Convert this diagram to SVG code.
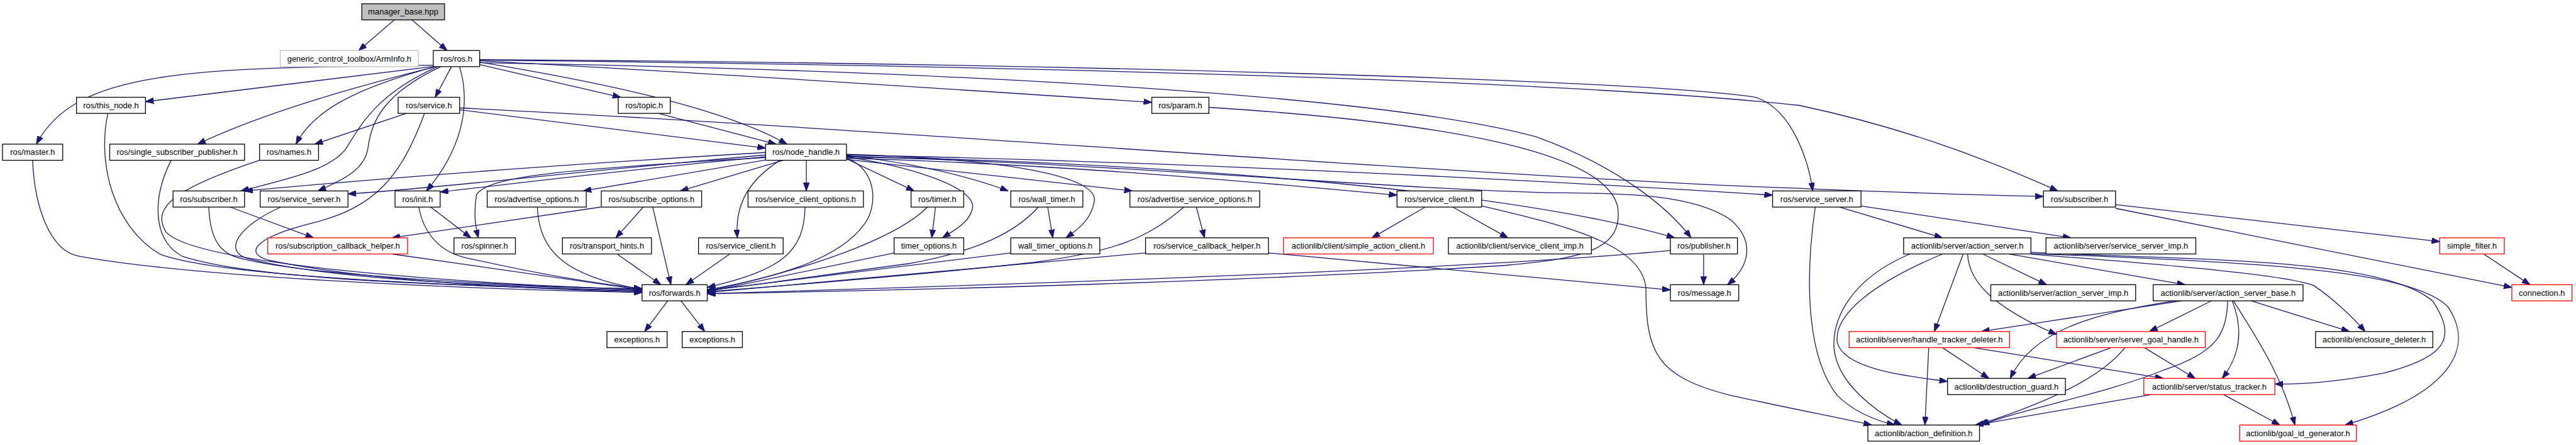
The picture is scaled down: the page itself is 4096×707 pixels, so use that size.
<svg xmlns="http://www.w3.org/2000/svg" width="4096" height="707" viewBox="0 0 4096 707">
<style>
.box{fill:#fff;stroke:#000;stroke-width:1.3}
.red{stroke:#ff0000}
.grey{stroke:#bfbfbf}
.root{fill:#bfbfbf}
text{font-family:"Liberation Sans",Arial,sans-serif;font-size:13px;fill:#000;text-anchor:middle}
.e path{fill:none;stroke:#191970;stroke-width:1.3;marker-end:url(#a)}
</style>
<defs>
<marker id="a" markerUnits="userSpaceOnUse" markerWidth="13" markerHeight="9.4" viewBox="0 0 13 9.4" refX="13" refY="4.7" orient="auto"><path d="M0,0L13,4.7L0,9.4z" fill="#191970" stroke="#191970" stroke-width="1"/></marker>
</defs>
<rect width="4096" height="707" fill="#fff"/>
<g transform="scale(0.997)">
<g id="edges" class="e">
<path d="M629,31.7 L572,80.5"/>
<path d="M657,31.7 L713,80.5"/>
<path d="M691,104 C300,108 120,112 58,229.7"/>
<path d="M691,106 L232,162"/>
<path d="M692,107 C560,140 420,180 315,229.7"/>
<path d="M694,106.2 C570,140 500,175 472,229.7"/>
<path d="M698,106.2 C600,150 575,200 553,235 C530,270 460,285 384,304.3"/>
<path d="M703,106.2 C610,150 592,195 587,235 C582,270 550,285 507,304.3"/>
<path d="M720,106.2 L694,155"/>
<path d="M733,106.2 C752,170 735,240 680,304.3"/>
<path d="M765,103 L990,155"/>
<path d="M765,99 C950,130 1150,170 1255,229.7"/>
<path d="M765,97 C1200,120 1600,148 1837,163"/>
<path d="M765,95 C1600,100 2600,125 2800,155 C2860,175 2885,260 2891,304.3"/>
<path d="M765,96 C1600,104 2500,128 2870,168 C3020,200 3150,245 3282,304.3"/>
<path d="M765,100 C1500,112 2200,150 2450,218 C2580,265 2660,330 2697,379"/>
<path d="M648,180.7 L502,229.7"/>
<path d="M733,175 L1221,236"/>
<path d="M677,180.7 C640,280 600,330 500,355 C400,380 390,405 430,415 C600,450 850,460 1024,466"/>
<path d="M733,172 C1400,205 2050,260 2740,295 C3000,306 3150,311 3259,313"/>
<path d="M1050,180.7 L1238,229.7"/>
<path d="M1928,171 C2300,195 2560,240 2580,330 C2590,400 2520,412 2400,423 C2000,448 1500,462 1128,468"/>
<path d="M52,255.4 C55,330 80,400 125,408 C300,440 700,460 1024,466"/>
<path d="M172,180.7 C155,260 180,360 255,405 C350,440 700,455 1024,464"/>
<path d="M273,255.4 C245,310 240,380 290,408 C400,445 700,455 1024,463"/>
<path d="M414,255.4 C280,300 240,330 265,370 C310,420 700,450 1024,462"/>
<path d="M333,330 C335,380 350,405 385,412 C500,440 800,455 1024,461"/>
<path d="M448,330 C380,360 355,400 395,412 C550,450 850,458 1024,460"/>
<path d="M367,330 L500,379"/>
<path d="M1221,243 C900,262 600,285 390,304.3"/>
<path d="M1221,247 C900,275 700,300 555,309"/>
<path d="M1221,250 C1000,270 800,295 702,306"/>
<path d="M1221,251 C900,270 780,280 760,310 C755,340 758,360 763,379"/>
<path d="M1221,255 L930,304.3"/>
<path d="M1249,255.4 L1085,304.3"/>
<path d="M1286,255.4 L1286,304.3"/>
<path d="M1244,255.4 C1190,290 1172,330 1176,379"/>
<path d="M1350,252 C1400,270 1400,330 1378,358 C1340,410 1250,440 1128,462"/>
<path d="M1350,253 L1458,304.3"/>
<path d="M1350,250 C1450,265 1565,300 1550,335 C1545,355 1520,368 1503,379"/>
<path d="M1350,248 C1450,258 1550,282 1608,304.3"/>
<path d="M1350,246 C1600,253 1755,280 1745,322 C1740,350 1720,365 1700,379"/>
<path d="M1350,254 L1806,304.3"/>
<path d="M1350,252 C1700,262 2000,290 2228,311"/>
<path d="M1350,247 C1900,258 2500,290 2827,311"/>
<path d="M1350,250 C1800,256 2400,300 2671,379"/>
<path d="M1350,249 C1800,262 2200,300 2470,307 C2600,308 2700,310 2760,350 C2800,385 2790,425 2755,453.7"/>
<path d="M857,330 C860,400 900,440 1024,461"/>
<path d="M958,330 L625,379"/>
<path d="M1026,330 L982,379"/>
<path d="M1041,330 L1070,453.7"/>
<path d="M1284,330 C1282,400 1250,430 1128,458"/>
<path d="M1479,330 C1440,370 1330,420 1128,464"/>
<path d="M1492,330 L1486,379"/>
<path d="M1671,330 L1679,379"/>
<path d="M1656,330 C1620,370 1560,400 1450,420 C1300,440 1200,455 1128,463"/>
<path d="M1908,330 L1921,379"/>
<path d="M1888,330 C1830,380 1780,400 1650,418 C1450,440 1250,455 1128,465"/>
<path d="M2273,330 L2188,379"/>
<path d="M2317,330 L2405,379"/>
<path d="M2363,328 C2500,360 2620,390 2625,460 C2625,560 2640,600 2760,630 C2850,650 2930,665 2985,677.3"/>
<path d="M2934,330 L3098,379"/>
<path d="M2967,328 L3303,379"/>
<path d="M2895,330 C2882,420 2875,560 2930,630 C2960,660 3000,672 3022,677.3"/>
<path d="M3374,326 L3891,385"/>
<path d="M3374,332 L4006,458"/>
<path d="M625,404.7 L1024,462"/>
<path d="M687,330 L751,379"/>
<path d="M668,330 C675,370 700,400 740,410 C850,435 950,452 1024,460"/>
<path d="M984,404.7 L1054,453.7"/>
<path d="M1164,404.7 L1094,453.7"/>
<path d="M1426,403 L1128,465"/>
<path d="M1612,403 L1128,463"/>
<path d="M1827,403 L1128,466"/>
<path d="M2023,403 L2664,462"/>
<path d="M2717,404.7 L2717,453.7"/>
<path d="M2664,399 C2400,425 1800,448 1128,468"/>
<path d="M3961,404.7 L4035,453.7"/>
<path d="M1065,479.4 L1028,528.3"/>
<path d="M1086,479.4 L1124,528.3"/>
<path d="M3046,404.7 C2950,445 2922,510 2925,555 C2930,610 2990,655 3033,677.3"/>
<path d="M3098,404.7 C2990,450 2925,500 2930,545 C2940,590 3050,600 3106,608"/>
<path d="M3131,404.7 L3085,528.3"/>
<path d="M3138,404.7 C3140,450 3180,490 3280,533"/>
<path d="M3162,404.7 L3264,453.7"/>
<path d="M3203,404.7 L3485,453.7"/>
<path d="M3239,402 C3500,415 3800,410 3880,480 C3920,540 3900,570 3800,595 C3720,610 3670,612 3628,612"/>
<path d="M3239,404 C3600,418 3850,430 3905,490 C3950,560 3900,630 3740,677.3"/>
<path d="M3239,405 C3500,425 3650,440 3690,455 C3720,475 3752,505 3772,528.3"/>
<path d="M3480,479.4 L3160,528.3"/>
<path d="M3470,479.4 C3330,500 3240,530 3206,603"/>
<path d="M3527,479.4 L3428,528.3"/>
<path d="M3553,479.4 C3550,530 3540,560 3450,590 C3350,630 3230,650 3160,677.3"/>
<path d="M3560,479.4 C3580,530 3570,570 3544,603"/>
<path d="M3562,479.4 C3600,540 3640,600 3660,677.3"/>
<path d="M3590,479.4 L3747,528.3"/>
<path d="M3367,554 L3234,603"/>
<path d="M3389,554 C3360,590 3300,630 3157,676"/>
<path d="M3420,554 L3501,603"/>
<path d="M3076,554 L3070,677.3"/>
<path d="M3098,554 L3172,603"/>
<path d="M3148,554 L3450,603"/>
<path d="M3430,629 L3150,677.3"/>
<path d="M3546,628.7 L3636,677.3"/>
</g>
<g id="n0"><rect class="box root" x="577" y="6" width="132" height="25.7"/><text x="643" y="23.5">manager_base.hpp</text></g>
<g id="n1"><rect class="box grey" x="447" y="80.5" width="220" height="25.7"/><text x="557" y="98">generic_control_toolbox/ArmInfo.h</text></g>
<g id="n2"><rect class="box" x="691" y="80.5" width="74" height="25.7"/><text x="728" y="98">ros/ros.h</text></g>
<g id="n3"><rect class="box" x="122" y="155" width="110" height="25.7"/><text x="177" y="172.5">ros/this_node.h</text></g>
<g id="n4"><rect class="box" x="635" y="155" width="98" height="25.7"/><text x="684" y="172.5">ros/service.h</text></g>
<g id="n5"><rect class="box" x="986" y="155" width="83" height="25.7"/><text x="1027.5" y="172.5">ros/topic.h</text></g>
<g id="n6"><rect class="box" x="1837" y="155" width="91" height="25.7"/><text x="1882.5" y="172.5">ros/param.h</text></g>
<g id="n7"><rect class="box" x="4" y="229.7" width="96" height="25.7"/><text x="52" y="247.2">ros/master.h</text></g>
<g id="n8"><rect class="box" x="175" y="229.7" width="215" height="25.7"/><text x="282.5" y="247.2">ros/single_subscriber_publisher.h</text></g>
<g id="n9"><rect class="box" x="414" y="229.7" width="94" height="25.7"/><text x="461" y="247.2">ros/names.h</text></g>
<g id="n10"><rect class="box" x="1221" y="229.7" width="129" height="25.7"/><text x="1285.5" y="247.2">ros/node_handle.h</text></g>
<g id="n11"><rect class="box" x="276" y="304.3" width="114" height="25.7"/><text x="333" y="321.8">ros/subscriber.h</text></g>
<g id="n12"><rect class="box" x="415" y="304.3" width="140" height="25.7"/><text x="485" y="321.8">ros/service_server.h</text></g>
<g id="n13"><rect class="box" x="630" y="304.3" width="72" height="25.7"/><text x="666" y="321.8">ros/init.h</text></g>
<g id="n14"><rect class="box" x="777" y="304.3" width="158" height="25.7"/><text x="856" y="321.8">ros/advertise_options.h</text></g>
<g id="n15"><rect class="box" x="959" y="304.3" width="160" height="25.7"/><text x="1039" y="321.8">ros/subscribe_options.h</text></g>
<g id="n16"><rect class="box" x="1193" y="304.3" width="184" height="25.7"/><text x="1285" y="321.8">ros/service_client_options.h</text></g>
<g id="n17"><rect class="box" x="1453" y="304.3" width="84" height="25.7"/><text x="1495" y="321.8">ros/timer.h</text></g>
<g id="n18"><rect class="box" x="1612" y="304.3" width="115" height="25.7"/><text x="1669.5" y="321.8">ros/wall_timer.h</text></g>
<g id="n19"><rect class="box" x="1802" y="304.3" width="207" height="25.7"/><text x="1905.5" y="321.8">ros/advertise_service_options.h</text></g>
<g id="n20"><rect class="box" x="2228" y="304.3" width="135" height="25.7"/><text x="2295.5" y="321.8">ros/service_client.h</text></g>
<g id="n21"><rect class="box" x="2827" y="304.3" width="141" height="25.7"/><text x="2897.5" y="321.8">ros/service_server.h</text></g>
<g id="n22"><rect class="box" x="3259" y="304.3" width="115" height="25.7"/><text x="3316.5" y="321.8">ros/subscriber.h</text></g>
<g id="n23"><rect class="box red" x="427" y="379" width="223" height="25.7"/><text x="538.5" y="396.5">ros/subscription_callback_helper.h</text></g>
<g id="n24"><rect class="box" x="724" y="379" width="98" height="25.7"/><text x="773" y="396.5">ros/spinner.h</text></g>
<g id="n25"><rect class="box" x="897" y="379" width="142" height="25.7"/><text x="968" y="396.5">ros/transport_hints.h</text></g>
<g id="n26"><rect class="box" x="1114" y="379" width="135" height="25.7"/><text x="1181.5" y="396.5">ros/service_client.h</text></g>
<g id="n27"><rect class="box" x="1426" y="379" width="111" height="25.7"/><text x="1481.5" y="396.5">timer_options.h</text></g>
<g id="n28"><rect class="box" x="1612" y="379" width="142" height="25.7"/><text x="1683" y="396.5">wall_timer_options.h</text></g>
<g id="n29"><rect class="box" x="1827" y="379" width="196" height="25.7"/><text x="1925" y="396.5">ros/service_callback_helper.h</text></g>
<g id="n30"><rect class="box red" x="2047" y="379" width="239" height="25.7"/><text x="2166.5" y="396.5">actionlib/client/simple_action_client.h</text></g>
<g id="n31"><rect class="box" x="2310" y="379" width="228" height="25.7"/><text x="2424" y="396.5">actionlib/client/service_client_imp.h</text></g>
<g id="n32"><rect class="box" x="2664" y="379" width="107" height="25.7"/><text x="2717.5" y="396.5">ros/publisher.h</text></g>
<g id="n33"><rect class="box" x="3036" y="379" width="203" height="25.7"/><text x="3137.5" y="396.5">actionlib/server/action_server.h</text></g>
<g id="n34"><rect class="box" x="3263" y="379" width="239" height="25.7"/><text x="3382.5" y="396.5">actionlib/server/service_server_imp.h</text></g>
<g id="n35"><rect class="box red" x="3891" y="379" width="103" height="25.7"/><text x="3942.5" y="396.5">simple_filter.h</text></g>
<g id="n36"><rect class="box" x="1024" y="453.7" width="104" height="25.7"/><text x="1076" y="471.2">ros/forwards.h</text></g>
<g id="n37"><rect class="box" x="2664" y="453.7" width="109" height="25.7"/><text x="2718.5" y="471.2">ros/message.h</text></g>
<g id="n38"><rect class="box" x="3175" y="453.7" width="231" height="25.7"/><text x="3290.5" y="471.2">actionlib/server/action_server_imp.h</text></g>
<g id="n39"><rect class="box" x="3434" y="453.7" width="239" height="25.7"/><text x="3553.5" y="471.2">actionlib/server/action_server_base.h</text></g>
<g id="n40"><rect class="box red" x="4006" y="453.7" width="96" height="25.7"/><text x="4054" y="471.2">connection.h</text></g>
<g id="n41"><rect class="box" x="968" y="528.3" width="96" height="25.7"/><text x="1016" y="545.8">exceptions.h</text></g>
<g id="n42"><rect class="box" x="1088" y="528.3" width="96" height="25.7"/><text x="1136" y="545.8">exceptions.h</text></g>
<g id="n43"><rect class="box red" x="2949" y="528.3" width="256" height="25.7"/><text x="3077" y="545.8">actionlib/server/handle_tracker_deleter.h</text></g>
<g id="n44"><rect class="box red" x="3280" y="528.3" width="237" height="25.7"/><text x="3398.5" y="545.8">actionlib/server/server_goal_handle.h</text></g>
<g id="n45"><rect class="box" x="3693" y="528.3" width="187" height="25.7"/><text x="3786.5" y="545.8">actionlib/enclosure_deleter.h</text></g>
<g id="n46"><rect class="box" x="3106" y="603" width="188" height="25.7"/><text x="3200" y="620.5">actionlib/destruction_guard.h</text></g>
<g id="n47"><rect class="box red" x="3419" y="603" width="209" height="25.7"/><text x="3523.5" y="620.5">actionlib/server/status_tracker.h</text></g>
<g id="n48"><rect class="box" x="2979" y="677.3" width="178" height="25.7"/><text x="3068" y="694.8">actionlib/action_definition.h</text></g>
<g id="n49"><rect class="box red" x="3572" y="677.3" width="186" height="25.7"/><text x="3665" y="694.8">actionlib/goal_id_generator.h</text></g>
</g>
</svg>
